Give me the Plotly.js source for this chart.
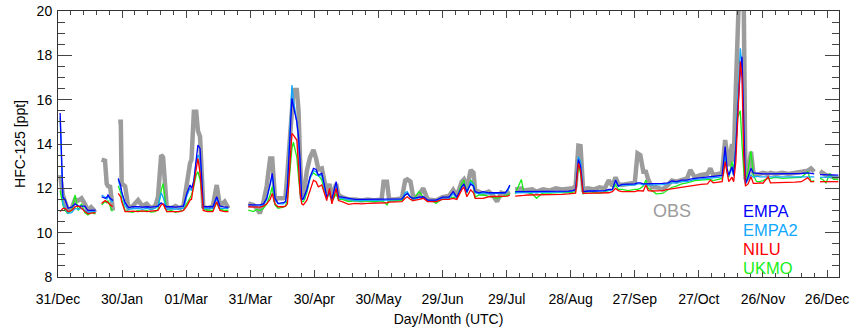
<!DOCTYPE html>
<html>
<head>
<meta charset="utf-8">
<script src="https://cdn.plot.ly/plotly-3.0.1.min.js"></script>
<style>html,body{margin:0;padding:0;background:#fff;}#chart{width:853px;height:329px;}</style>
</head>
<body>
<div id="chart"></div>
<script>
// Days since 31/Dec (null rows = data gaps)
const days = [
  1.0, 2.3, 3.3, 4.7, 6.4, 8.0, 9.5, 11.0, 12.6, 14.0, 15.5, 17.0, 17.6, 19,
  20.4, 22.0, 22.8, 23.4, 24.4, 25.1, 25.7, 26.5,
  28.2, 29.4, 29.8, 31.4, 33.0, 35.0, 37.5, 39.5, 41.5, 43.5, 45.5, 46.8, 48.3, 49.2, 50.9, 53, 55, 57, 58.7, 60.3, 61.8, 62.5, 63.6, 64.7, 65.5, 66.5, 67.3, 68.0, 70, 72.5, 74.3, 75.8, 78.0, 79.8, 82,
  89.1, 91.5, 93.0, 94.5, 96.2, 97.7, 99.3, 100.3, 101.6, 103, 105.5, 106.5, 107.4, 108.7, 109.5, 110.2, 111.8, 112.6, 113.3, 114.1, 114.9, 116.5, 118.0, 119.6, 120.8, 121.9, 123.5, 124.6, 125.8, 127.1, 128.2, 130.2, 131.3,
  133, 136, 139, 142, 145, 148, 151.5, 152.4, 154.0, 155, 158, 161, 162.5, 163.5, 165, 166.4, 169, 171, 173, 175, 177, 180, 183, 185, 186.7, 189, 190, 191.4, 193.2, 194.5, 195.3, 197, 199, 201.6, 203.5, 205.5, 207.5, 209.4, 210.5, 211.5, 212.8,
  214, 216.9, 218, 220, 222, 224, 227, 230, 233, 236, 239, 241, 242.3, 243.6, 244.6, 245.8, 248, 251, 253.5, 256, 257.8, 259.5, 261, 262.3, 264, 267, 270,
  271.3, 272.6, 274, 275.2, 276.3, 278, 280, 283, 285.5, 287.4, 289.5, 292, 294.5, 296, 298, 301, 304, 305.4, 306.7, 309, 310.9, 312.3, 313.2, 314, 315.5, 316.3, 317.3, 318.2, 319.4, 320.2, 321.0, 321.8, 323.0, 324.4, 325.5, 327, 328.5, 330, 332.4, 333.5, 336, 339, 342, 345, 348, 351, 352.5, 354.0, 355.2,
  356.7, 358, 359.5, 361.4, 363, 365.3
];
const obs = [
  12.6, 11.7, 11.4, 11.0, 11.1, 11.5, 11.45, 11.55, 11.3, 11.0, 11.15, 11.0, 11.05, null,
  13.3, 13.25, 12.2, 12.1, 12.07, 11.5, 11.0, null,
  15.0, 15.0, 12.22, 12.1, 11.1, 11.2, 11.47, 11.2, 11.3, 11.1, 11.2, 11.6, 13.5, 13.4, 11.15, 11.1, 11.2, 11.1, 11.2, 12.37, 13.13, 13.3, 15.46, 15.46, 14.6, 14.33, 12.07, 11.17, 11.1, 11.2, 12.15, 11.2, 11.4, 11.1, null,
  11.32, 11.25, 11.1, 10.87, 11.4, 12.1, 13.35, 13.35, 11.5, 11.55, 11.55, 11.62, 12.7, 14.8, 15.99, 16.44, 16.44, 15.5, 13.3, 11.62, 11.6, 12.8, 13.4, 13.73, 13.35, 12.85, 12.9, 12.3, 11.8, 12.2, 11.6, 12.2, 11.7,
  11.6, 11.5, 11.5, 11.45, 11.5, 11.45, 11.5, 12.3, 12.3, 11.5, 11.5, 11.55, 12.35, 12.4, 12.3, 11.55, 11.7, 12.0, 11.5, 11.5, 11.45, 11.6, 11.65, 11.93, 11.65, 12.3, 12.4, 12.0, 12.83, 12.7, 11.9, 11.85, 11.75, 11.85, 11.7, 11.4, 11.8, 11.75, 11.8, 11.85, null,
  11.95, 12.0, 11.9, 11.9, 11.95, 11.85, 11.95, 11.9, 12.0, 11.95, 11.95, 12.0, 12.1, 13.92, 13.9, 11.95, 12.0, 11.95, 12.05, 12.0, 12.37, 12.1, 12.5, 12.2, 12.15, 12.2, 12.25,
  13.58, 13.5, 12.75, 12.75, 12.4, 12.05, 12.05, 11.95, 12.15, 12.35, 12.3, 12.4, 12.45, 12.83, 12.5, 12.6, 12.65, 12.9, 12.6, 12.65, 12.7, 14.18, 13.3, 13.0, 14.0, 13.2, 16.5, 21.5, 22.5, 22.0, 20.5, 12.4, 12.6, 13.65, 12.7, 12.6, 12.65, 12.7, 12.65, 12.7, 12.65, 12.7, 12.65, 12.7, 12.7, 12.8, 12.9, 12.75, null,
  12.78, 12.7, 12.6, 12.55, 12.5, 12.45
];
const empa = [
  15.4, 11.6, 11.5, 11.1, 11.15, 11.3, 11.2, 11.2, 11.2, 11.0, 11.02, 11.02, 11.02, null,
  11.62, 11.55, 11.6, 11.7, 11.55, 11.5, 11.45, null,
  12.45, 12.1, 11.85, 11.35, 11.13, 11.17, 11.17, 11.15, 11.17, 11.15, 11.17, 11.2, 11.35, 11.3, 11.17, 11.17, 11.15, 11.17, 11.2, 11.77, 12.15, 12.0, 12.3, 13.3, 13.95, 13.8, 12.5, 11.17, 11.17, 11.17, 11.62, 11.2, 11.15, 11.15, null,
  11.25, 11.25, 11.25, 11.25, 11.3, 11.55, 12.2, 12.68, 11.55, 11.32, 11.35, 11.4, 12.07, 14.8, 16.06, 15.7, 15.0, 14.33, 13.3, 11.47, 11.55, 11.95, 12.52, 12.9, 12.85, 12.6, 12.68, 12.2, 11.6, 11.85, 11.5, 12.3, 11.62,
  11.6, 11.55, 11.5, 11.5, 11.5, 11.5, 11.5, 11.52, 11.5, 11.5, 11.5, 11.52, 11.7, 11.77, 11.6, 11.55, 11.6, 11.62, 11.47, 11.47, 11.47, 11.6, 11.6, 11.85, 11.6, 12.07, 12.2, 11.85, 12.2, 12.1, 11.85, 11.8, 11.85, 11.8, 11.8, 11.8, 11.8, 11.8, 11.95, 12.15, null,
  11.85, 11.85, 11.85, 11.85, 11.85, 11.85, 11.85, 11.85, 11.87, 11.87, 11.87, 11.9, 11.95, 13.3, 13.0, 11.85, 11.88, 11.88, 11.9, 11.9, 11.95, 11.95, 12.37, 12.1, 12.18, 12.18, 12.2,
  12.25, 12.25, 12.2, 12.2, 12.2, 12.2, 12.2, 12.22, 12.25, 12.33, 12.3, 12.37, 12.37, 12.42, 12.45, 12.48, 12.5, 12.52, 12.53, 12.55, 12.58, 13.88, 12.9, 12.6, 12.98, 12.6, 13.8, 15.5, 17.3, 17.94, 15.0, 12.22, 12.5, 12.9, 12.7, 12.68, 12.65, 12.65, 12.65, 12.65, 12.65, 12.65, 12.65, 12.65, 12.67, 12.7, 12.67, 12.65, null,
  12.62, 12.62, 12.6, 12.62, 12.6, 12.6
];
const empa2 = [
  15.2, 11.3, 11.1, 10.87, 10.9, 11.1, 11.05, 11.1, 11.0, 10.9, 10.95, 10.95, 10.95, null,
  11.7, 11.6, 11.5, 11.65, 11.5, 11.4, 11.4, null,
  12.4, 12.0, 11.8, 11.2, 11.05, 11.08, 11.1, 11.05, 11.1, 11.05, 11.1, 11.2, 11.8, 11.6, 11.05, 11.1, 11.05, 11.08, 11.1, 11.65, 12.0, 11.9, 12.4, 13.2, 13.5, 13.3, 12.4, 11.1, 11.1, 11.1, 11.55, 11.1, 11.1, 11.1, null,
  11.17, 11.2, 11.2, 11.2, 11.25, 11.5, 12.1, 12.6, 11.5, 11.3, 11.3, 11.4, 12.2, 15.4, 16.66, 16.0, 15.0, 14.2, 13.0, 11.5, 11.5, 11.9, 12.45, 12.8, 12.75, 12.55, 12.6, 12.1, 11.55, 11.8, 11.45, 12.2, 11.55,
  11.55, 11.5, 11.45, 11.45, 11.47, 11.45, 11.45, 11.47, 11.45, 11.45, 11.48, 11.5, 11.8, 11.85, 11.6, 11.52, 11.58, 11.6, 11.45, 11.45, 11.45, 11.55, 11.55, 11.75, 11.55, 12.05, 12.15, 11.8, 12.3, 12.15, 11.8, 11.75, 11.8, 11.75, 11.75, 11.75, 11.75, 11.78, 11.9, 12.1, null,
  11.8, 11.8, 11.8, 11.8, 11.8, 11.8, 11.82, 11.82, 11.83, 11.83, 11.85, 11.87, 11.92, 13.43, 13.2, 11.85, 11.85, 11.86, 11.87, 11.87, 11.9, 11.93, 12.37, 12.1, 12.15, 12.15, 12.15,
  12.2, 12.2, 12.15, 12.2, 12.15, 12.15, 12.15, 12.17, 12.2, 12.25, 12.25, 12.3, 12.3, 12.35, 12.4, 12.42, 12.45, 12.45, 12.47, 12.5, 12.52, 13.6, 12.8, 12.55, 12.9, 12.55, 14.0, 16.0, 18.32, 17.5, 14.0, 12.2, 12.4, 12.6, 12.5, 12.55, 12.52, 12.52, 12.53, 12.52, 12.52, 12.53, 12.53, 12.55, 12.55, 12.55, 12.55, 12.52, null,
  12.5, 12.5, 12.5, 12.5, 12.5, 12.5
];
const nilu = [
  10.95, 11.1, 11.1, 10.95, 11.0, 11.17, 11.2, 11.1, 10.95, 10.85, 10.88, 10.9, 10.9, null,
  11.32, 11.45, 11.4, 11.35, 11.3, 11.2, 11.2, null,
  11.77, 11.6, 11.4, 10.95, 10.95, 10.97, 10.95, 10.98, 10.95, 10.97, 10.98, 11.0, 11.25, 11.3, 10.95, 10.95, 10.98, 10.95, 11.0, 11.2, 11.47, 11.5, 12.2, 12.98, 13.35, 12.7, 11.9, 11.0, 10.95, 10.95, 11.4, 11.0, 10.95, 10.95, null,
  11.17, 11.17, 11.15, 11.15, 11.2, 11.3, 11.5, 11.77, 11.3, 11.17, 11.17, 11.2, 11.3, 13.58, 14.48, 14.4, 14.18, 13.0, 11.8, 11.3, 11.25, 11.47, 11.95, 12.37, 12.3, 12.07, 12.15, 11.8, 11.45, 12.0, 11.3, 12.0, 11.45,
  11.4, 11.28, 11.32, 11.3, 11.32, 11.32, 11.33, 11.35, 11.35, 11.38, 11.4, 11.4, 11.55, 11.62, 11.5, 11.45, 11.5, 11.55, 11.4, 11.4, 11.4, 11.5, 11.5, 11.55, 11.5, 11.93, 12.07, 11.62, 11.93, 11.8, 11.55, 11.55, 11.55, 11.62, 11.62, 11.62, 11.62, 11.62, 11.65, 11.7, null,
  11.65, 11.65, 11.68, 11.7, 11.7, 11.7, 11.73, 11.73, 11.73, 11.73, 11.75, 11.75, 11.78, 13.13, 12.8, 11.77, 11.77, 11.77, 11.78, 11.78, 11.8, 11.85, 12.0, 11.9, 11.85, 11.85, 11.85,
  11.9, 11.9, 11.88, 12.15, 11.9, 11.88, 11.88, 11.9, 11.95, 11.98, 12.0, 12.05, 12.07, 12.1, 12.15, 12.18, 12.2, 12.37, 12.25, 12.28, 12.3, 13.2, 12.6, 12.3, 12.5, 12.3, 13.2, 15.0, 17.72, 17.0, 13.5, 12.1, 12.2, 12.52, 12.22, 12.22, 12.25, 12.23, 12.52, 12.25, 12.25, 12.25, 12.27, 12.28, 12.3, 12.48, 12.3, 12.3, null,
  12.3, 12.3, 12.3, 12.3, 12.3, 12.3
];
const ukmo = [
  11.9, 11.25, 11.0, 10.87, 11.0, 11.7, 11.0, 11.3, 10.9, 10.8, 10.9, 10.85, 10.85, null,
  11.25, 11.4, 11.35, 11.45, 11.2, 11.0, 11.0, null,
  12.1, 11.8, 11.5, 11.0, 10.95, 10.92, 11.0, 10.95, 11.0, 10.93, 10.95, 11.05, 11.9, 12.22, 10.95, 11.0, 10.92, 10.97, 11.0, 11.3, 11.6, 11.7, 12.1, 12.6, 12.75, 12.4, 11.8, 11.1, 11.0, 11.0, 11.35, 11.05, 11.0, 11.02, null,
  11.02, 10.95, 11.05, 11.0, 11.1, 11.3, 11.7, 12.07, 11.25, 11.1, 11.15, 11.2, 11.5, 13.2, 13.8, 14.08, 13.4, 12.5, 11.8, 11.4, 11.4, 11.8, 12.5, 12.7, 12.6, 12.6, 12.37, 11.9, 11.6, 11.75, 11.4, 11.75, 11.5,
  11.5, 11.4, 11.45, 11.42, 11.44, 11.4, 11.45, 11.4, 11.25, 11.42, 11.45, 11.45, 11.7, 11.77, 11.6, 11.5, 11.85, 11.6, 11.45, 11.45, 11.32, 11.55, 11.55, 11.6, 11.55, 12.22, 12.37, 11.77, 12.37, 12.2, 11.6, 11.7, 11.7, 11.65, 11.62, 11.55, 11.62, 11.65, 11.7, 11.75, null,
  11.75, 12.4, 11.85, 11.8, 11.75, 11.55, 11.8, 11.78, 11.8, 11.82, 11.8, 11.82, 11.85, 13.0, 12.7, 11.75, 11.85, 11.82, 11.77, 11.85, 11.9, 11.95, 12.15, 11.95, 11.95, 11.9, 11.95,
  11.95, 12.0, 12.1, 12.37, 12.0, 11.9, 11.75, 11.77, 11.95, 12.05, 12.1, 12.2, 12.25, 12.3, 12.35, 12.37, 12.4, 12.4, 12.35, 12.4, 12.45, 13.3, 12.7, 12.5, 13.2, 12.8, 13.8, 15.2, 15.5, 14.0, 12.8, 12.3, 12.8, 13.68, 12.6, 12.3, 12.3, 12.35, 12.45, 12.45, 12.5, 12.45, 12.45, 12.48, 12.5, 12.75, 12.3, 12.35, null,
  12.45, 12.4, 12.25, 12.68, 12.4, 12.4
];
const tickDays = [0, 30, 60, 90, 120, 150, 180, 210, 240, 270, 300, 330, 360];
const tickLabels = ['31/Dec', '30/Jan', '01/Mar', '31/Mar', '30/Apr', '30/May', '29/Jun', '29/Jul', '28/Aug', '27/Sep', '27/Oct', '26/Nov', '26/Dec'];
const seriesNames = ['OBS', 'EMPA', 'EMPA2', 'NILU', 'UKMO'];
const seriesColors = ['#9c9c9c', '#0000ff', '#10a8ff', '#ff0000', '#18ee18'];

const FONT = '"Liberation Sans", Arial, Helvetica, sans-serif';
const mk = (y, i, w) => ({
  x: days, y: y, type: 'scatter', mode: 'lines', name: seriesNames[i],
  connectgaps: false, line: {color: seriesColors[i], width: w}, hoverinfo: 'skip'
});
const traces = [
  mk(obs, 0, 4.5),
  mk(ukmo, 4, 1.3),
  mk(empa2, 2, 1.3),
  mk(empa, 1, 1.3),
  mk(nilu, 3, 1.3)
];

const legendY = [0.2481, 0.1767, 0.1053, 0.0338];
const annotations = [{
  xref: 'paper', yref: 'paper', x: 0.786, y: 0.2481, xanchor: 'center', yanchor: 'middle',
  text: seriesNames[0], showarrow: false, borderpad: 0,
  font: {family: FONT, size: 18, color: seriesColors[0]}
}];
[1, 2, 3, 4].forEach((i, k) => annotations.push({
  xref: 'paper', yref: 'paper', x: 0.8755, y: legendY[k], xanchor: 'left', yanchor: 'middle',
  text: seriesNames[i], showarrow: false, borderpad: 0,
  font: {family: FONT, size: 16.5, color: seriesColors[i]}
}));

const layout = {
  width: 853, height: 329,
  margin: {l: 58, r: 14, t: 11, b: 52},
  paper_bgcolor: '#ffffff', plot_bgcolor: '#ffffff',
  showlegend: false,
  font: {family: FONT, size: 14, color: '#000'},
  xaxis: {
    range: [0, 365.6], tickmode: 'array', tickvals: tickDays, ticktext: tickLabels,
    ticks: 'inside', ticklen: 7, tickwidth: 1, tickcolor: '#444',
    minor: {tickmode: 'linear', tick0: 0, dtick: 6, ticks: 'inside', ticklen: 4, tickcolor: '#444'},
    showline: true, linecolor: '#333', linewidth: 1, mirror: 'allticks',
    showgrid: false, zeroline: false, ticklabelstandoff: 9,
    tickfont: {family: FONT, size: 14, color: '#000'},
    title: {text: 'Day/Month (UTC)', font: {family: FONT, size: 14, color: '#000'}, standoff: 8}
  },
  yaxis: {
    range: [8, 20], tickmode: 'linear', tick0: 8, dtick: 2,
    ticks: 'inside', ticklen: 14, tickwidth: 1, tickcolor: '#444',
    minor: {tickmode: 'linear', tick0: 8, dtick: 0.5, ticks: 'inside', ticklen: 7, tickcolor: '#444'},
    showline: true, linecolor: '#333', linewidth: 1, mirror: 'allticks',
    showgrid: false, zeroline: false, ticklabelstandoff: 2,
    tickfont: {family: FONT, size: 14, color: '#000'},
    title: {text: 'HFC-125 [ppt]', font: {family: FONT, size: 14, color: '#000'}, standoff: 7}
  },
  annotations: annotations
};
Plotly.newPlot('chart', traces, layout, {displayModeBar: false, staticPlot: true});
</script>
</body>
</html>
